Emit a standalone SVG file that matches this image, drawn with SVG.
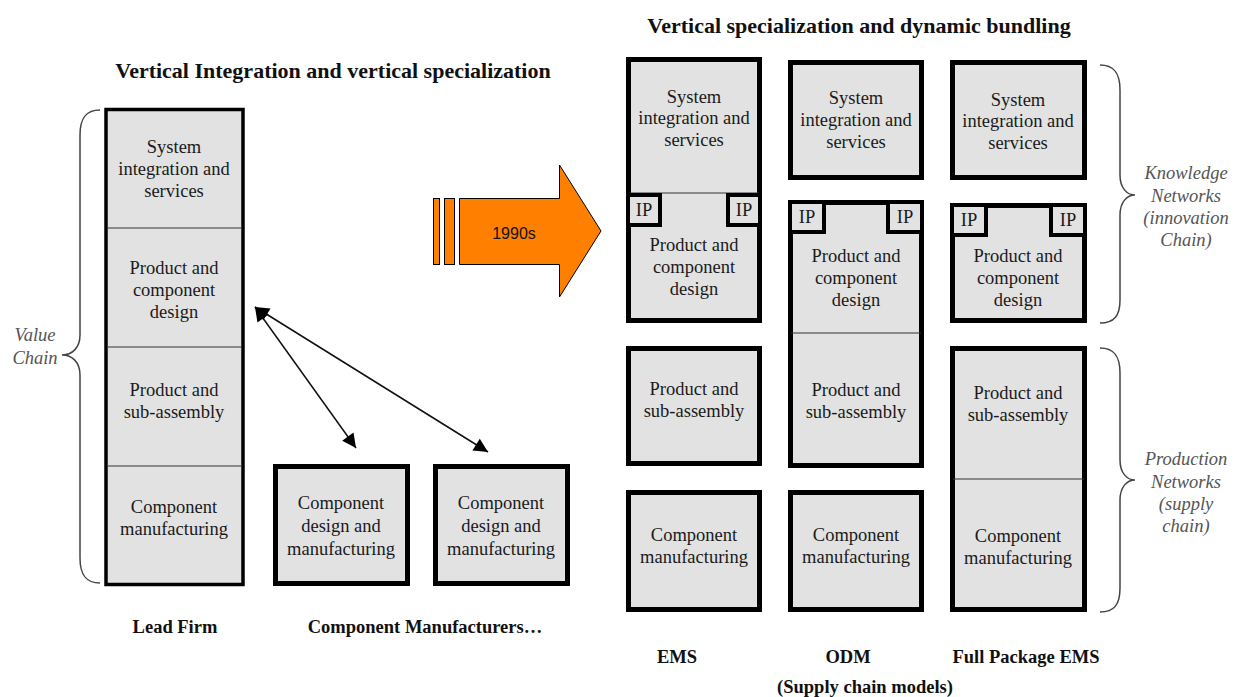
<svg xmlns="http://www.w3.org/2000/svg" width="1239" height="697" viewBox="0 0 1239 697">
<style>
.t{font-family:"Liberation Serif","Times New Roman",serif;font-size:18.5px;fill:#1a1a1a;text-anchor:middle}
.ti{font-family:"Liberation Serif","Times New Roman",serif;font-size:18.5px;font-style:italic;fill:#555;text-anchor:middle}
.h{font-family:"Liberation Serif","Times New Roman",serif;font-size:22px;font-weight:bold;fill:#111;text-anchor:middle}
.lb{font-family:"Liberation Serif","Times New Roman",serif;font-size:18.5px;font-weight:bold;fill:#111;text-anchor:middle}
.box{fill:#e2e2e2;stroke:#000;stroke-width:5}
.ip{fill:#e2e2e2;stroke:#000;stroke-width:4}
.sep{stroke:#333;stroke-width:1.2}
.brace{fill:none;stroke:#444;stroke-width:1.5}
.conn{stroke:#111;stroke-width:1.5;fill:none}
</style>
<defs>
<marker id="ah" viewBox="0 0 10 10" refX="10" refY="5" markerWidth="10" markerHeight="9" markerUnits="userSpaceOnUse" orient="auto-start-reverse">
<path d="M0,0 L10,5 L0,10 z" fill="#000"/>
</marker>
<marker id="ahb" viewBox="0 0 10 10" refX="10" refY="5" markerWidth="16" markerHeight="14" markerUnits="userSpaceOnUse" orient="auto-start-reverse">
<path d="M0,0 L10,5 L0,10 z" fill="#000"/>
</marker>
</defs>

<text class="h" x="333" y="78">Vertical Integration and vertical specialization</text>
<text class="h" x="859" y="33">Vertical specialization and dynamic bundling</text>

<g id="lead-firm-stack">
<rect x="106" y="109.5" width="137" height="475" fill="#e2e2e2" stroke="#000" stroke-width="3.5"/>
<line class="sep" x1="107" y1="228" x2="242" y2="228"/>
<line class="sep" x1="107" y1="347" x2="242" y2="347"/>
<line class="sep" x1="107" y1="466" x2="242" y2="466"/>
<text class="t" x="174" y="153">System</text>
<text class="t" x="174" y="175">integration and</text>
<text class="t" x="174" y="197">services</text>
<text class="t" x="174" y="274">Product and</text>
<text class="t" x="174" y="296">component</text>
<text class="t" x="174" y="318">design</text>
<text class="t" x="174" y="396">Product and</text>
<text class="t" x="174" y="418">sub-assembly</text>
<text class="t" x="174" y="513">Component</text>
<text class="t" x="174" y="535">manufacturing</text>
</g>

<g id="value-chain-brace">
<path class="brace" d="M100,110 C86,110 80,118 80,135 L80,335 C80,348 72,355 62,355 C72,355 80,362 80,375 L80,558 C80,575 86,583 100,583"/>
<text class="ti" x="35" y="341">Value</text>
<text class="ti" x="35" y="364">Chain</text>
</g>

<g id="component-maker-1">
<rect class="box" x="275.5" y="466.5" width="132" height="117"/>
<text class="t" x="341" y="509">Component</text>
<text class="t" x="341" y="532">design and</text>
<text class="t" x="341" y="555">manufacturing</text>
</g>
<g id="component-maker-2">
<rect class="box" x="435.5" y="466.5" width="132" height="117"/>
<text class="t" x="501" y="509">Component</text>
<text class="t" x="501" y="532">design and</text>
<text class="t" x="501" y="555">manufacturing</text>
</g>

<g id="connectors">
<line class="conn" x1="255" y1="307" x2="356" y2="448" marker-start="url(#ahb)" marker-end="url(#ahb)"/>
<line class="conn" x1="255" y1="307" x2="488" y2="452" marker-start="url(#ahb)" marker-end="url(#ahb)"/>
</g>

<g id="arrow-1990s">
<rect x="433.5" y="198.5" width="6" height="66" fill="#ff8000" stroke="#000" stroke-width="1"/>
<rect x="444.5" y="198.5" width="10" height="66" fill="#ff8000" stroke="#000" stroke-width="1"/>
<polygon points="459.5,198.5 559.5,198.5 559.5,165 601,231 559.5,297 559.5,264.5 459.5,264.5" fill="#ff8000" stroke="#000" stroke-width="1"/>
<text x="514" y="239" font-family="Liberation Sans, Arial, sans-serif" font-size="16" fill="#111" text-anchor="middle">1990s</text>
</g>

<g id="ems-top">
<rect class="box" x="628.5" y="59.5" width="131" height="261"/>
<line class="sep" x1="629" y1="193" x2="759" y2="193"/>
<rect class="ip" x="628" y="195" width="32" height="30"/>
<rect class="ip" x="728" y="195" width="32" height="30"/>
<text class="t" x="644" y="216">IP</text>
<text class="t" x="744" y="216">IP</text>
<text class="t" x="694" y="103">System</text>
<text class="t" x="694" y="124">integration and</text>
<text class="t" x="694" y="146">services</text>
<text class="t" x="694" y="251">Product and</text>
<text class="t" x="694" y="273">component</text>
<text class="t" x="694" y="295">design</text>
</g>
<g id="ems-assembly">
<rect class="box" x="628.5" y="348.5" width="131" height="115"/>
<text class="t" x="694" y="395">Product and</text>
<text class="t" x="694" y="417">sub-assembly</text>
</g>
<g id="ems-component">
<rect class="box" x="628.5" y="492.5" width="131" height="117"/>
<text class="t" x="694" y="541">Component</text>
<text class="t" x="694" y="563">manufacturing</text>
</g>

<g id="odm-system">
<rect class="box" x="790.5" y="62.5" width="131" height="115"/>
<text class="t" x="856" y="104">System</text>
<text class="t" x="856" y="126">integration and</text>
<text class="t" x="856" y="148">services</text>
</g>
<g id="odm-design-assembly">
<rect class="box" x="790.5" y="202.5" width="131" height="263"/>
<line class="sep" x1="791" y1="333" x2="921" y2="333"/>
<rect class="ip" x="790" y="202" width="34" height="30"/>
<rect class="ip" x="888" y="202" width="34" height="30"/>
<text class="t" x="807" y="223">IP</text>
<text class="t" x="905" y="223">IP</text>
<text class="t" x="856" y="262">Product and</text>
<text class="t" x="856" y="284">component</text>
<text class="t" x="856" y="306">design</text>
<text class="t" x="856" y="396">Product and</text>
<text class="t" x="856" y="418">sub-assembly</text>
</g>
<g id="odm-component">
<rect class="box" x="790.5" y="492.5" width="131" height="117"/>
<text class="t" x="856" y="541">Component</text>
<text class="t" x="856" y="563">manufacturing</text>
</g>

<g id="fp-system">
<rect class="box" x="952.5" y="62.5" width="132" height="115"/>
<text class="t" x="1018" y="106">System</text>
<text class="t" x="1018" y="127">integration and</text>
<text class="t" x="1018" y="149">services</text>
</g>
<g id="fp-design">
<rect class="box" x="952.5" y="205.5" width="132" height="115"/>
<rect class="ip" x="952" y="205" width="34" height="30"/>
<rect class="ip" x="1051" y="205" width="34" height="30"/>
<text class="t" x="969" y="226">IP</text>
<text class="t" x="1068" y="226">IP</text>
<text class="t" x="1018" y="262">Product and</text>
<text class="t" x="1018" y="284">component</text>
<text class="t" x="1018" y="306">design</text>
</g>
<g id="fp-production">
<rect class="box" x="952.5" y="348.5" width="132" height="261"/>
<line class="sep" x1="953" y1="479" x2="1084" y2="479"/>
<text class="t" x="1018" y="399">Product and</text>
<text class="t" x="1018" y="421">sub-assembly</text>
<text class="t" x="1018" y="542">Component</text>
<text class="t" x="1018" y="564">manufacturing</text>
</g>

<g id="knowledge-brace">
<path class="brace" d="M1100,65 C1114,65 1120,73 1120,90 L1120,175 C1120,188 1127,195 1135,195 C1127,195 1120,202 1120,215 L1120,300 C1120,316 1114,323 1100,323"/>
<text class="ti" x="1186" y="179">Knowledge</text>
<text class="ti" x="1186" y="202">Networks</text>
<text class="ti" x="1186" y="224">(innovation</text>
<text class="ti" x="1186" y="246">Chain)</text>
</g>
<g id="production-brace">
<path class="brace" d="M1100,348 C1114,348 1120,356 1120,373 L1120,460 C1120,473 1127,480 1135,480 C1127,480 1120,487 1120,500 L1120,588 C1120,605 1114,612 1100,612"/>
<text class="ti" x="1186" y="465">Production</text>
<text class="ti" x="1186" y="488">Networks</text>
<text class="ti" x="1186" y="510">(supply</text>
<text class="ti" x="1186" y="532">chain)</text>
</g>

<text class="lb" x="175" y="633">Lead Firm</text>
<text class="lb" x="425" y="633">Component Manufacturers…</text>
<text class="lb" x="677" y="663">EMS</text>
<text class="lb" x="848" y="663">ODM</text>
<text class="lb" x="1026" y="663">Full Package EMS</text>
<text class="lb" x="865" y="693">(Supply chain models)</text>
</svg>
